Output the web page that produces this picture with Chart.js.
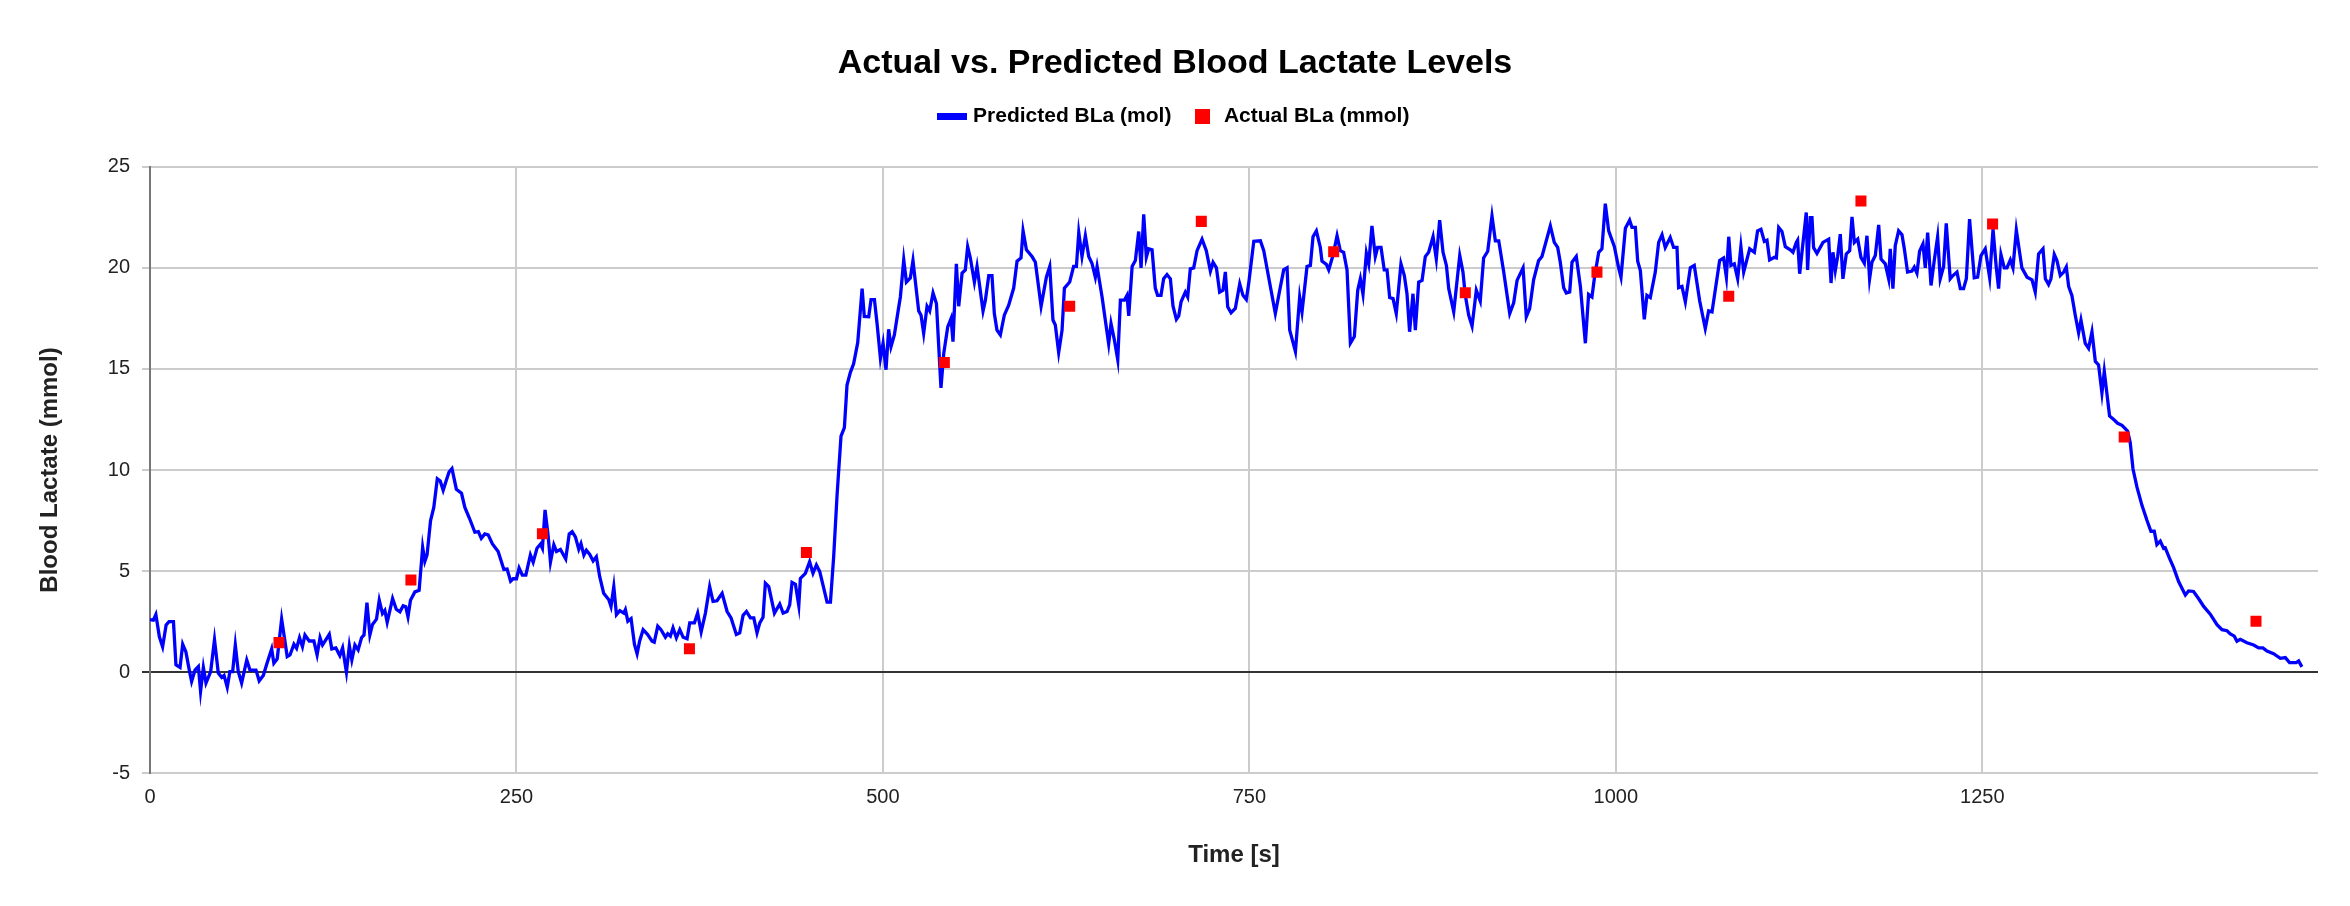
<!DOCTYPE html>
<html>
<head>
<meta charset="utf-8">
<script src="https://cdn.jsdelivr.net/npm/chart.js@4/dist/chart.umd.min.js"></script>
<style>
  html, body { margin: 0; padding: 0; background: #fff; }
  #wrap { width: 2350px; height: 906px; }
</style>
</head>
<body>
<div id="wrap"><canvas id="myChart"></canvas></div>
<script>
// Predicted blood lactate, [time s, mmol]
const predictedBLa = [
  [0,2.6],[2.3,2.57],[4,2.85],[6.4,1.75],[8.6,1.26],[11,2.33],[13,2.5],[16,2.5],[17.7,0.36],[20.5,0.23],
  [22.3,1.38],[24.5,1.0],[26.8,0.1],[28.4,-0.46],[30.7,0.1],[33,0.28],[34.5,-0.95],[36.4,0.23],[38.2,-0.54],[41.4,0.03],
  [44,1.6],[46.6,-0.05],[48.9,-0.26],[50.5,-0.16],[52.7,-0.75],[54.5,0.03],[56.4,0.03],[58.2,1.34],[60.2,0.03],[62.5,-0.54],
  [66,0.6],[68.2,0.1],[72.3,0.1],[74.5,-0.43],[77.3,-0.16],[79.5,0.36],[83,1.15],[84.5,0.44],[86.8,0.66],[89.8,2.62],
  [93.6,0.77],[95.5,0.85],[98.2,1.38],[100,1.18],[102,1.7],[104,1.26],[105.7,1.84],[108.6,1.54],[111.8,1.54],[114,0.85],
  [116,1.7],[117.7,1.34],[122.3,1.87],[124,1.15],[126.8,1.2],[129.5,0.82],[131.4,1.2],[134,0.0],[136,1.31],[137.7,0.6],
  [139.8,1.34],[142,1.1],[144.3,1.7],[146,1.84],[148,3.44],[150,1.84],[151.8,2.36],[154.5,2.62],[156.4,3.56],[158.6,2.9],
  [160.2,3.05],[161.8,2.46],[165.5,3.64],[168,3.11],[170.5,2.98],[172.7,3.28],[174.5,3.23],[176,2.74],[177.7,3.56],[180.7,3.97],
  [183.6,4.05],[186,6.18],[187.5,5.48],[189,5.8],[191.4,7.5],[193.6,8.15],[196,9.57],[198,9.46],[200,9.0],[202,9.46],
  [204,9.9],[206,10.07],[209,9.05],[212.5,8.85],[214.8,8.15],[218,7.6],[221.6,6.92],[224,6.95],[226,6.62],[228.4,6.84],
  [230.7,6.79],[233.6,6.34],[237.5,5.97],[241.4,5.08],[243.6,5.1],[246,4.5],[247.7,4.62],[250,4.62],[251.8,5.15],[254,4.8],
  [256.4,4.8],[259.5,5.8],[261.4,5.44],[264,6.13],[266.4,6.34],[267.7,6.13],[269.5,8.03],[271.6,6.75],[273.2,5.44],[275.5,6.3],
  [277.3,5.97],[280,6.07],[283.6,5.6],[286,6.84],[288,6.95],
  [290.2,6.69],[292.5,6.08],[294,6.36],[296,5.79],[297.7,6.03],[300,5.82],[302.3,5.5],[304.5,5.71],[306.8,4.72],[309.5,3.9],
  [313,3.58],[314.5,3.25],[316.4,4.23],[318.2,2.84],[320.5,3.04],[323.2,2.92],[324.3,3.09],[326,2.52],[328.2,2.65],[330.5,1.37],
  [332.3,0.91],[334,1.53],[336.4,2.1],[339.5,1.86],[342.5,1.53],[344,1.48],[346.4,2.27],[348.6,2.1],[351.6,1.73],[353.2,1.9],
  [355,1.78],[356.8,2.19],[359.1,1.7],[361.4,2.1],[363.7,1.73],[366.4,1.65],[368.2,2.44],[371.4,2.44],[373.6,2.92],[376,1.99],
  [378.9,2.92],[381.8,4.23],[384.1,3.5],[386.8,3.53],[390.3,3.9],[393.7,3.0],[396.4,2.68],[400,1.86],[402.3,1.94],[404.6,2.81],
  [406.9,3.0],[409.6,2.68],[411.9,2.68],[414.1,1.94],[416,2.44],[418.2,2.71],[419.8,4.4],[422.1,4.23],[426,2.92],[429.6,3.37],
  [431.9,2.92],[434.6,3.0],[436.4,3.33],[438,4.44],[440.3,4.35],[442.6,3.3],[443.7,4.64],[447.1,4.89],[450,5.46],[452.3,4.89],
  [454.6,5.3],[456.9,4.97],[461.9,3.46],[464.2,3.46],[466.4,5.71],[468.7,8.74],[471.4,11.68],[473.7,12.1],[475.5,14.2],[477.8,14.83],
  [480,15.25],[482.8,16.3],[485.8,18.97],[487.3,17.6],[490.3,17.58],[491.9,18.43],[494.2,18.43],[496,17.25],[498.3,15.53],[500.1,16.27],
  [502.1,14.96],[503.9,16.96],[505.5,16.1],[507.8,16.68],[510.8,18.07],[511.9,18.56],[514.2,20.4],[516,19.3],[518.7,19.5],[520.5,20.36],
  [524.4,17.87],[526,17.66],[527.8,16.76],[530.1,18.1],[531.9,17.87],[534.2,18.76],[536.5,18.24],[539.6,14.06],[541.5,15.77],[544.2,17.08],
  [546.5,17.5],[547.8,16.35],[550.1,20.2],[551.7,18.1],[554,19.74],[556.2,19.9],[557.8,21.05],[559.6,20.5],[562.4,19.3],[564.2,20.07],
  [568.3,17.87],[569.9,18.4],[572.2,19.62],[574.4,19.62],[576,17.74],[577.8,16.92],
  [580.1,16.68],[582.8,17.66],[585.8,18.15],[589.2,19.0],[591.5,20.33],[594.2,20.49],[595.6,21.83],[597.9,20.89],[601.7,20.56],[604,20.28],
  [607.9,18.1],[611.5,19.54],[613.8,20.07],[616,17.42],[617.6,17.17],[619.9,15.81],[622.2,16.92],[623.8,19.0],[627.4,19.3],[630.1,20.07],
  [632,20.07],[633.6,21.75],[635.8,20.56],[638.1,21.59],[640.4,20.56],[642.6,20.23],[644.9,19.54],[646.1,20.07],[649.5,18.56],[651.7,17.42],
  [654,16.24],[655.6,17.25],[657.9,16.43],[660.2,15.45],[662,18.4],[664.7,18.4],[666.5,18.64],[667.7,17.62],[670,20.07],[672.2,20.36],
  [674.5,21.8],[676.1,20.0],[677.9,22.65],[679.7,20.52],[681.3,20.94],[683.6,20.89],[685.8,19.0],[687.4,18.64],[689.7,18.64],[691.5,19.46],
  [693.8,19.67],[696.1,19.46],[697.9,18.1],[700.2,17.45],[701.8,17.62],[703.4,18.32],[706.3,18.8],[707.9,18.56],[709.7,19.95],[712,20.0],
  [714.3,20.85],[717.7,21.42],[720.6,20.85],[723.4,19.84],[725.2,20.28],[727.5,20.0],[729.7,18.8],[732,18.89],[733.6,19.8],[735.2,18.07],
  [737.5,17.78],[740.4,17.99],[743.4,19.21],[745.6,18.64],[747.9,18.43],[749.5,19.21],[753,21.31],[757.5,21.34],[759.8,20.85],[764.3,19.08],
  [767.7,17.74],[770.7,18.89],[773.4,19.9],[775.7,20.0],[777.5,16.92],[781.4,15.86],[784.3,18.56],[785.9,17.82],[789.3,20.07],[791.6,20.12],
  [793.4,21.54],[795.7,21.83],[798.4,21.01],[799.5,20.33],[802.5,20.17],[804.1,19.9],[807,20.61],[809.8,21.59],[812,20.85],[814.3,20.77],
  [816.6,19.9],[818.9,16.27],[821.6,16.6],[823.9,18.89],[825.7,19.46],[827.5,18.69],[829.8,20.72],[831.4,20.2],[833.6,22.08],[835.9,20.56],
  [837.5,21.01],[839.8,21.01],[842,19.9],[843.9,19.9],[845.7,18.53],[848,18.48],[850.2,17.74],[853.4,20.2],[855.7,19.62],[857.5,18.72],
  [859.3,16.84],
  [861.6,18.72],[863.2,16.92],[865.5,19.3],[867.8,19.38],[870,20.56],[872.3,20.77],[875.3,21.54],[877.5,20.44],[879.8,22.36],[882.1,20.77],
  [884.4,20.12],[886,18.97],[889.4,17.82],[893.5,20.61],[895.7,19.79],[897.3,18.64],[899.6,17.66],[901.9,17.12],[904.8,18.89],[907.5,18.36],
  [909.8,20.49],[912.6,20.82],[915.5,22.57],[917.8,21.34],[920.1,21.34],[923.5,19.79],[927.6,17.74],[930.3,18.27],[932.6,19.38],[936.7,20.0],
  [938.9,17.58],[941.2,17.99],[943.9,19.41],[947.3,20.36],[949.6,20.56],[955.3,22.08],[958,21.26],[960.3,21.01],[962.1,20.28],[964.4,19.02],
  [966.2,18.76],[968.5,18.81],[970.1,20.28],[973,20.56],[975.8,19.08],[979.2,16.27],[981.4,18.69],[983.7,18.56],[985.3,19.46],[988.3,20.77],
  [990.5,20.94],[992.8,23.18],[995.1,21.83],[999,21.05],[1001.9,20.0],[1003.5,19.54],[1006.5,21.96],[1009.4,22.36],[1011,22.0],[1013.3,22.0],
  [1014.9,20.33],[1016.7,19.87],[1019.4,17.45],[1021.2,18.64],[1023.5,18.53],[1026.9,19.79],[1029.2,21.26],[1031.5,21.64],[1033.7,21.01],[1037.1,21.5],
  [1039.4,21.01],[1041.7,21.01],[1042.8,19.02],[1045.1,19.08],[1047.4,18.32],[1050.8,20.0],[1053.5,20.12],[1057.2,18.36],[1061,17.0],[1063.3,17.87],
  [1065.6,17.82],[1070.8,20.36],[1073.5,20.49],[1075.4,19.54],[1077,21.54],[1078.5,20.12],[1080.8,20.2],[1083.1,19.46],[1085.3,21.05],[1087.2,19.79],
  [1091.3,20.94],[1094.5,20.77],[1096.7,21.83],[1099,21.91],[1101.3,21.31],[1103.1,21.37],[1104.9,20.39],[1108.1,20.52],[1109.5,20.49],[1111.1,22.0],
  [1113.3,21.8],[1115.6,21.05],[1119,20.89],[1120.8,20.77],[1123.1,21.26],[1124,21.37],[1125.4,19.71],[1129.9,22.74],[1130.8,19.9],[1132.6,22.49],
  [1133.8,22.49],[1134.9,21.0],[1137.2,20.72],[1141.3,21.26],[1145.2,21.42],[1146.8,19.25],
  [1148.1,20.77],[1149.7,19.87],[1151.3,20.56],[1153.1,21.67],[1154.9,19.46],[1157.2,20.69],[1159.5,20.85],[1161.1,22.52],[1162.7,21.26],[1165,21.42],
  [1167.2,20.52],[1169.5,20.23],[1171.3,21.59],[1173.1,19.46],[1174.7,20.28],[1177,20.61],[1179.3,22.13],[1180.9,20.44],[1183.8,20.2],[1186.1,19.46],
  [1187.2,20.94],[1189,18.97],[1190.6,21.1],[1192.9,21.83],[1195.2,21.64],[1196.8,20.94],[1199,19.79],[1202,19.84],[1203.6,20.04],[1205.4,19.74],
  [1207.2,20.82],[1209.5,21.18],[1211.1,20.0],[1212.7,21.75],[1215,19.13],[1217.2,20.36],[1219.5,21.54],[1221.3,19.46],[1223.6,20.07],[1225.4,22.2],
  [1228.1,19.46],[1230,19.62],[1232.7,19.79],[1235,18.97],[1237.2,18.97],[1239.1,19.46],[1241.3,22.41],[1244.5,19.51],[1246.8,19.54],[1249.1,20.61],
  [1252,20.94],[1255,19.51],[1257.3,21.91],[1259.5,20.04],[1261.1,18.97],[1262.7,20.66],[1265,20.0],[1266.8,20.0],[1269.1,20.39],[1270.9,20.0],
  [1273.2,21.87],[1277,20.0],[1280.5,19.54],[1283.9,19.41],[1286.1,18.81],[1288.4,20.69],[1291.4,20.94],[1293,19.46],[1295.2,19.18],[1296.8,19.46],
  [1299.1,20.66],[1300.9,20.36],[1303.2,19.62],[1305.5,19.79],[1307.3,20.04],[1308.9,19.08],[1311.1,18.64],[1313.4,17.66],[1315.7,16.79],[1317.3,17.42],
  [1320.2,16.27],[1322.5,16.02],[1324.8,16.84],[1327.1,15.37],[1329.3,15.2],[1331.6,13.81],[1333.2,14.88],[1336.8,12.67],[1340,12.47],[1342.3,12.31],
  [1345.3,12.21],[1349.1,11.93],[1350.9,11.36],[1352.8,10.05],[1355.5,9.15],[1358.9,8.25],[1362.3,7.51],[1365,6.97],[1367.3,6.97],[1369.1,6.31],
  [1371.4,6.48],[1373.7,6.12],[1374.8,6.15],[1377.8,5.62],[1380.5,5.17],[1383.9,4.48],[1388.5,3.82],[1390.7,4.02],[1394.1,3.99],[1397.6,3.63],
  [1401,3.25],[1405.5,2.87],[1410.1,2.35],[1413.5,2.1],[1416.9,2.05],[1419.2,1.89],[1421.9,1.78],[1423.7,1.53],[1426,1.62],[1430.5,1.45],
  [1435.1,1.34],[1438.5,1.2],[1441.4,1.2],[1444.2,1.04],[1448.7,0.91],[1453.3,0.68],[1456.7,0.72],[1459.6,0.47],[1464.2,0.47],[1465.8,0.55],
  [1468,0.26]
];

// Measured blood lactate samples, [time s, mmol]
const actualBLa = [
  [88,1.46],[178,4.56],[267.7,6.85],[368,1.16],[447.8,5.92],[541.9,15.32],[627.4,18.1],[717.2,22.3],
  [807.5,20.8],[897.3,18.77],[987.1,19.79],[1077,18.6],[1167.2,23.31],[1257,22.17],[1346.8,11.63],[1436.7,2.52]
];

const xTicks = [0, 250, 500, 750, 1000, 1250];
const yTicks = [-5, 0, 5, 10, 15, 20, 25];

const FONT = "'Liberation Sans', Arial, Helvetica, sans-serif";

// small canvases used as legend markers (bar for the line, square for the points)
function swatch(w, h, color) {
    const c = document.createElement('canvas');
    c.width = w;
    c.height = h;
    const g = c.getContext('2d');
    g.fillStyle = color;
    g.fillRect(0, 0, w, h);
    return c;
}
const lineSwatch = swatch(30, 7, '#0000ff');
const dotSwatch = swatch(15, 15, '#ff0000');

// push the plot area down a bit below the legend
const legendGap = {
    id: 'legendGap',
    beforeInit(chart) {
        const fit = chart.legend.fit;
        chart.legend.fit = function () {
            fit.bind(chart.legend)();
            this.height += 30;
        };
    }
};

const data = {
    datasets: [{
        label: 'Predicted BLa (mol)',
        type: 'line',
        data: predictedBLa.map(p => ({ x: p[0], y: p[1] })),
        borderColor: '#0000ff',
        backgroundColor: '#0000ff',
        borderWidth: 3.3,
        pointRadius: 0,
        tension: 0,
        fill: false,
        order: 2
    }, {
        label: 'Actual BLa (mmol)',
        type: 'scatter',
        data: actualBLa.map(p => ({ x: p[0], y: p[1] })),
        backgroundColor: '#ff0000',
        borderColor: '#ff0000',
        borderWidth: 0,
        pointStyle: 'rect',
        pointRadius: 7.8,
        order: 1
    }]
};

const config = {
    type: 'line',
    data: data,
    plugins: [legendGap],
    options: {
        responsive: true,
        maintainAspectRatio: false,
        animation: false,
        devicePixelRatio: 1,
        // equal side padding so the title and legend stay centred on the page
        layout: { padding: { top: 0, right: 32, bottom: 0, left: 32 } },
        scales: {
            x: {
                type: 'linear',
                min: 0,
                max: 1479,
                afterBuildTicks: (scale) => { scale.ticks = xTicks.map(v => ({ value: v })); },
                ticks: {
                    color: '#222',
                    font: { family: FONT, size: 20 },
                    padding: 12,
                    maxRotation: 0,
                    callback: (v) => String(v)
                },
                grid: {
                    color: (ctx) => ctx.tick && ctx.tick.value === 0 ? 'rgba(0,0,0,0)' : '#cccccc',
                    lineWidth: 2,
                    drawTicks: false
                },
                border: { display: false },
                title: {
                    display: true,
                    text: 'Time [s]',
                    color: '#222',
                    font: { family: FONT, size: 24, weight: 'bold' },
                    padding: { top: 20, bottom: 36 }
                }
            },
            y: {
                min: -5,
                max: 25,
                afterBuildTicks: (scale) => { scale.ticks = yTicks.map(v => ({ value: v })); },
                afterFit: (scale) => { scale.width = 118; },
                ticks: {
                    color: '#222',
                    font: { family: FONT, size: 20 },
                    padding: 12
                },
                grid: {
                    color: (ctx) => ctx.tick && ctx.tick.value === 0 ? '#333333' : '#cccccc',
                    lineWidth: 2,
                    tickLength: 8
                },
                border: { display: true, color: '#777777', width: 2 },
                title: {
                    display: true,
                    text: 'Blood Lactate (mmol)',
                    color: '#222',
                    font: { family: FONT, size: 24, weight: 'bold' },
                    padding: { top: 4, bottom: 0 }
                }
            }
        },
        plugins: {
            title: {
                display: true,
                text: 'Actual vs. Predicted Blood Lactate Levels',
                color: '#000',
                font: { family: FONT, size: 34, weight: 'bold' },
                padding: { top: 43, bottom: 2 }
            },
            legend: {
                display: true,
                labels: {
                    usePointStyle: true,
                    pointStyleWidth: 22,
                    padding: 20,
                    color: '#222',
                    font: { family: FONT, size: 21, weight: 'bold' },
                    generateLabels: (chart) => chart.data.datasets.map((ds, i) => ({
                        text: ds.label,
                        pointStyle: i === 0 ? lineSwatch : dotSwatch,
                        fillStyle: ds.backgroundColor,
                        strokeStyle: ds.backgroundColor,
                        lineWidth: 0,
                        hidden: false,
                        datasetIndex: i
                    }))
                }
            },
            tooltip: { enabled: false }
        }
    }
};

const myChart = new Chart(document.getElementById('myChart'), config);
</script>
</body>
</html>
